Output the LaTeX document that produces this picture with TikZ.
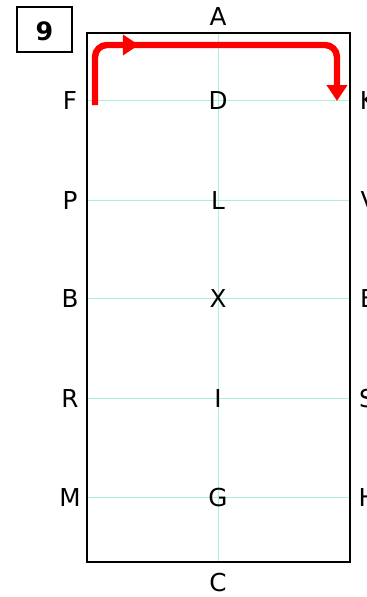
\documentclass[tikz,border=0pt]{standalone}
\usepackage{fontspec}
\setmainfont{DejaVu Sans}
\usetikzlibrary{arrows.meta,decorations.markings}
\definecolor{gridgreen}{RGB}{170,240,212}
\tikzset{
  letter/.style={font=\fontsize{18.5}{18.5}\selectfont},
  route/.style={red, line width=4.8pt, rounded corners=9pt, -{Triangle[length=12pt,width=15pt]}},
}

\begin{document}
\begin{tikzpicture}[x=0.75pt,y=-0.75pt]
  \useasboundingbox (0,0) rectangle (367,597);
  % grid lines
  \foreach \y in {100,200,298,398,497}
    \draw[gridgreen, line width=0.75pt] (87,\y) -- (350,\y);
  \draw[gridgreen, line width=0.75pt] (218,33) -- (218,562);
  % arena
  \draw[line width=1.8pt] (87,33) rectangle (350,562);
  % number box
  \draw[line width=1.3pt] (17,7) rectangle (72,52);
  \node[font=\fontsize{19}{19}\selectfont\bfseries] (num) at (44.5,31) {9};
  % letters
  \node[letter] (A) at (218,17) {A};
  \node[letter] (C) at (218,583) {C};
  \node[letter] (F) at (70,101) {F};
  \node[letter] (D) at (218,101) {D};
  \node[letter] (K) at (368,101) {K};
  \node[letter] (P) at (70,201) {P};
  \node[letter] (L) at (218,201) {L};
  \node[letter] (V) at (369,201) {V};
  \node[letter] (B) at (70,299) {B};
  \node[letter] (X) at (218,299) {X};
  \node[letter] (E) at (368,299) {E};
  \node[letter] (R) at (70,399) {R};
  \node[letter] (I) at (218,399) {I};
  \node[letter] (S) at (367,399) {S};
  \node[letter] (M) at (70,498) {M};
  \node[letter] (G) at (218,498) {G};
  \node[letter] (H) at (368,498) {H};
  % route
  \coordinate (start) at (95,105);
  \coordinate (corner1) at (95,45);
  \coordinate (corner2) at (337,45);
  \coordinate (finish) at (337,101);
  \draw[route, postaction={decorate}, decoration={markings,
      mark=at position 74pt with {\arrow{Triangle[length=12pt,width=15pt]}}}]
    (start) -- (corner1) -- (corner2) -- (finish);
\end{tikzpicture}
\end{document}
